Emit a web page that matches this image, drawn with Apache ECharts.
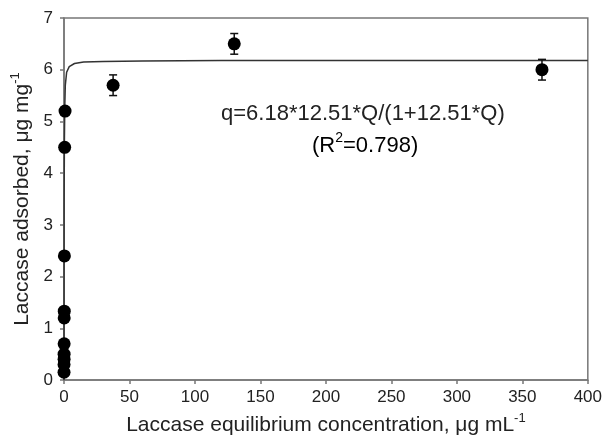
<!DOCTYPE html>
<html>
<head>
<meta charset="utf-8">
<script src="https://cdn.jsdelivr.net/npm/echarts@6/dist/echarts.min.js"></script>
<style>
  html, body { margin: 0; padding: 0; background: #fff; }
  #chart { width: 605px; height: 441px; }
</style>
</head>
<body>
<div id="chart"></div>
<script>
// measured points (concentration, adsorbed, sd)
var concX = [0.02, 0.04, 0.06, 0.08, 0.1, 0.15, 0.2, 0.3, 0.5, 0.8, 37.5, 130, 365];
var adsY = [0.15, 0.3, 0.4, 0.5, 0.7, 1.2, 1.33, 2.4, 4.5, 5.2, 5.7, 6.5, 6.0];
var adsSd = [0.05, 0.05, 0.05, 0.05, 0.05, 0.05, 0.05, 0.05, 0.05, 0.05, 0.2, 0.2, 0.2];

// fitted Langmuir curve
var fitX = [0, 0.1, 0.3, 0.6, 1, 2, 4, 8, 15, 30, 60, 120, 200, 300, 400];
var fitY = [0, 3.4, 4.6, 5.3, 5.7, 5.95, 6.06, 6.12, 6.15, 6.16, 6.17, 6.18, 6.18, 6.18, 6.18];

var xTicks = [0, 50, 100, 150, 200, 250, 300, 350, 400];
var yTicks = [0, 1, 2, 3, 4, 5, 6, 7];

var font = 'Liberation Sans, Arial, Helvetica, sans-serif';
var axisGray = '#777';

var pts = concX.map(function (x, i) { return [x, adsY[i], adsSd[i]]; });
var fit = fitX.map(function (x, i) { return [x, fitY[i]]; });

var myChart = echarts.init(document.getElementById('chart'));
var option = {
    animation: false,
    backgroundColor: '#fff',
    grid: {
        left: 64,
        right: 16,
        top: 18,
        bottom: 56,
        show: true,
        borderColor: axisGray,
        borderWidth: 1.5
    },
    xAxis: {
        type: 'value',
        min: xTicks[0],
        max: xTicks[xTicks.length - 1],
        interval: 50,
        name: '{a|Laccase equilibrium concentration, μg mL}{s|-1}',
        nameLocation: 'middle',
        nameGap: 32,
        nameTextStyle: {
            rich: {
                a: { fontFamily: font, fontSize: 21, color: '#222', lineHeight: 24, verticalAlign: 'bottom' },
                s: { fontFamily: font, fontSize: 13, color: '#222', lineHeight: 13, verticalAlign: 'top' }
            }
        },
        axisLine: { onZero: false, lineStyle: { color: axisGray, width: 1.5 } },
        axisTick: { inside: false, length: 4, lineStyle: { color: axisGray, width: 1.5 } },
        axisLabel: { margin: 9, fontFamily: font, fontSize: 17, color: '#222' },
        splitLine: { show: false }
    },
    yAxis: {
        type: 'value',
        min: yTicks[0],
        max: yTicks[yTicks.length - 1],
        interval: 1,
        name: '{a|Laccase adsorbed, μg mg}{s|-1}',
        nameLocation: 'middle',
        nameGap: 26,
        nameTextStyle: {
            rich: {
                a: { fontFamily: font, fontSize: 21, color: '#222', lineHeight: 24, verticalAlign: 'bottom' },
                s: { fontFamily: font, fontSize: 13, color: '#222', lineHeight: 13, verticalAlign: 'top' }
            }
        },
        axisLine: { onZero: false, lineStyle: { color: axisGray, width: 1.5 } },
        axisTick: { inside: false, length: 4, lineStyle: { color: axisGray, width: 1.5 } },
        axisLabel: { margin: 11, fontFamily: font, fontSize: 17, color: '#222' },
        splitLine: { show: false }
    },
    graphic: [
        {
            type: 'text',
            left: 221,
            top: 103,
            style: {
                text: 'q=6.18*12.51*Q/(1+12.51*Q)',
                font: '22px ' + font,
                fill: '#222'
            }
        },
        {
            type: 'text',
            left: 312,
            top: 131,
            style: {
                text: '{a|(R}{s|2}{a|=0.798)}',
                rich: {
                    a: { fontFamily: font, fontSize: 22, color: '#222', lineHeight: 26, verticalAlign: 'bottom' },
                    s: { fontFamily: font, fontSize: 14, color: '#222', lineHeight: 14, verticalAlign: 'top' }
                }
            }
        }
    ],
    series: [
        {
            name: 'fit',
            type: 'line',
            data: fit,
            showSymbol: false,
            smooth: false,
            lineStyle: { color: '#333', width: 1.5 },
            z: 2
        },
        {
            name: 'sd',
            type: 'custom',
            data: pts,
            renderItem: function (params, api) {
                var x = api.value(0), y = api.value(1), sd = api.value(2);
                var hi = api.coord([x, y + sd]);
                var lo = api.coord([x, y - sd]);
                var w = 4;
                var st = { stroke: '#111', lineWidth: 1.5 };
                return {
                    type: 'group',
                    children: [
                        { type: 'line', shape: { x1: hi[0], y1: hi[1], x2: lo[0], y2: lo[1] }, style: st },
                        { type: 'line', shape: { x1: hi[0] - w, y1: hi[1], x2: hi[0] + w, y2: hi[1] }, style: st },
                        { type: 'line', shape: { x1: lo[0] - w, y1: lo[1], x2: lo[0] + w, y2: lo[1] }, style: st }
                    ]
                };
            },
            z: 3
        },
        {
            name: 'data',
            type: 'scatter',
            data: pts,
            symbol: 'circle',
            symbolSize: 13,
            itemStyle: { color: '#000', opacity: 1 },
            z: 4
        }
    ]
};
myChart.setOption(option);
</script>
</body>
</html>
